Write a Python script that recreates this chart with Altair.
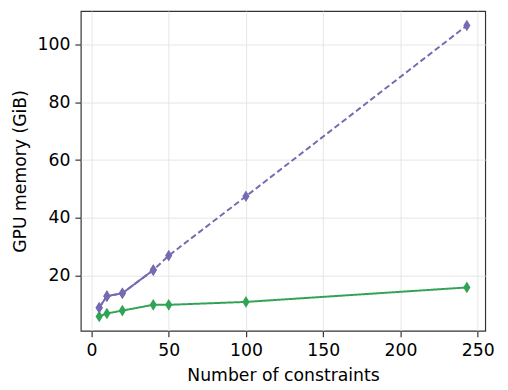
import altair as alt
import pandas as pd

# ---- data ----
series_names = ["Sparse", "Standard - estimated", "Standard - actual"]
series_colors = ["#31a354", "#756bb1", "#756bb1"]

x_sparse = [5, 10, 20, 40, 50, 100, 243]
y_sparse = [6, 7, 8, 10, 10, 11, 16]

x_est = [5, 10, 20, 40, 50, 100, 243]
y_est = [9, 13, 14, 22, 27, 47.5, 106.5]

x_act = [5, 10, 20, 40]
y_act = [9, 13, 14, 22]

x_ticks = [0, 50, 100, 150, 200, 250]
y_ticks = [20, 40, 60, 80, 100]

rows = []
for name, xs, ys in [(series_names[0], x_sparse, y_sparse),
                     (series_names[1], x_est, y_est),
                     (series_names[2], x_act, y_act)]:
    for xv, yv in zip(xs, ys):
        rows.append({"x": xv, "y": yv, "series": name})
df = pd.DataFrame(rows)

FONT = "DejaVu Sans"
FS = 17.5

color_scale = alt.Scale(domain=series_names, range=series_colors)
dash_scale = alt.Scale(domain=series_names, range=[[1, 0], [6, 3.2], [1, 0]])

xenc = alt.X("x:Q", scale=alt.Scale(domain=[-6.9, 254.9], nice=False, zero=False),
             axis=alt.Axis(values=x_ticks, title="Number of constraints"))
yenc = alt.Y("y:Q", scale=alt.Scale(domain=[1.0, 111.5], nice=False, zero=False),
             axis=alt.Axis(values=y_ticks, title="GPU memory (GiB)"))

diamond = "M0,-1L0.62,0L0,1L-0.62,0Z"

legend = alt.Legend(title=None, orient="none", legendX=10, legendY=4,
                    labelFontSize=FS, padding=6, fillColor="#ffffff",
                    strokeColor="#cccccc")

base = alt.Chart(df)

line_est = base.transform_filter(alt.datum.series == series_names[1]).mark_line(strokeWidth=2).encode(
    x=xenc, y=yenc,
    color=alt.Color("series:N", scale=color_scale, legend=None),
    strokeDash=alt.StrokeDash("series:N", scale=dash_scale, legend=None),
    order="x:Q",
)
line_other = base.transform_filter(alt.datum.series != series_names[1]).mark_line(strokeWidth=2).encode(
    x=xenc, y=yenc,
    color=alt.Color("series:N", scale=color_scale, legend=None),
    strokeDash=alt.StrokeDash("series:N", scale=dash_scale, legend=None),
    order="x:Q",
)
points = base.mark_point(filled=True, shape=diamond, size=140, opacity=1).encode(
    x=xenc, y=yenc,
    fill=alt.Fill("series:N", scale=color_scale, legend=legend),
)

chart = alt.layer(line_est, line_other, points).properties(
    width=411,
    height=325,
    padding={"left": 74, "top": 0, "right": 15, "bottom": 57},
).configure(
    autosize=alt.AutoSizeParams(type="none"),
).configure_view(
    stroke="#333333", strokeWidth=1.2
).configure_axis(
    domain=False,
    grid=True,
    gridColor="#e6e6e6",
    gridWidth=1,
    tickColor="#333333",
    tickSize=6,
    tickWidth=1.2,
    labelFont=FONT,
    labelFontSize=FS,
    labelColor="#000000",
    labelPadding=5,
    titleFont=FONT,
    titleFontSize=FS,
    titleFontWeight="normal",
    titleColor="#000000",
).configure_axisX(
    titlePadding=8,
).configure_axisY(
    titlePadding=8,
)

chart.save("out.html", embed_options={"renderer": "svg", "actions": False})
